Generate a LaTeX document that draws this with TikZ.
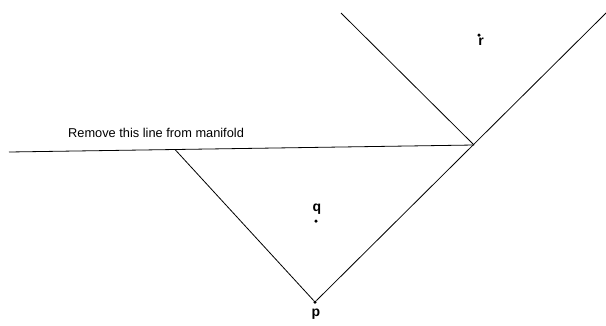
\documentclass[tikz,border=0pt]{standalone}
\usepackage{fontspec}
\setmainfont{Liberation Sans}
\usetikzlibrary{calc}

\begin{document}
\begin{tikzpicture}[x=1pt,y=-1pt,
  edge/.style={line width=0.8pt},
  pt/.style={circle,fill,inner sep=0pt,minimum size=3.5pt},
  lbl/.style={font=\fontsize{14}{16}\selectfont\bfseries}]
\useasboundingbox (0,0) rectangle (606,325);
\coordinate (A) at (9,152);
\coordinate (B) at (175,149.5);
\coordinate (C) at (474,145);
\coordinate (D) at (341,13);
\coordinate (E) at (606,13);
\node[pt] (p) at (315,302) {};
\node[pt] (q) at (316,221) {};
\node[pt] (r) at (479,35) {};
\node[lbl] (lp) at (316,314) {p};
\node[lbl] (lq) at (317,209) {q};
\node[lbl] (lr) at (481,42) {r};
\node[anchor=base west,font=\fontsize{12.8}{15}\selectfont,inner sep=0pt] (T) at (68,137) {Remove this line from manifold};
\draw[edge] (A)--(C);
\draw[edge] (B)--(p);
\draw[edge] (p)--(E);
\draw[edge] (D)--(C);
\end{tikzpicture}
\end{document}
